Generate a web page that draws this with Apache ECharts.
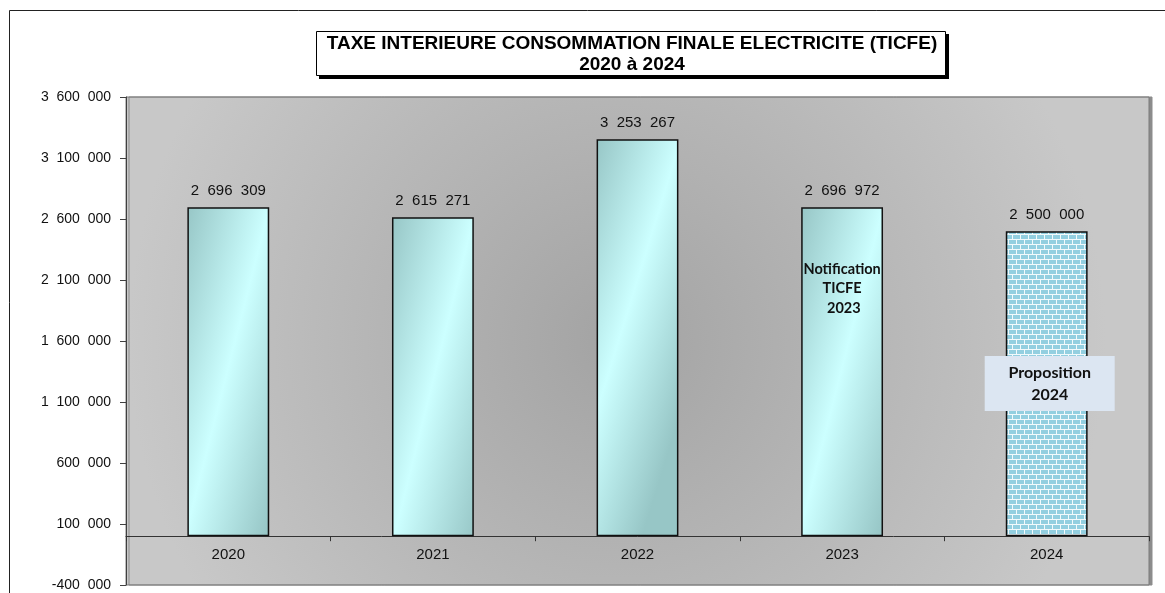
<!DOCTYPE html>
<html>
<head>
<meta charset="utf-8">
<script src="https://cdn.jsdelivr.net/npm/echarts@6/dist/echarts.min.js"></script>
<style>
  html, body { margin: 0; padding: 0; background: #ffffff; }
  #chart { width: 1165px; height: 593px; }
</style>
</head>
<body>
<div id="chart"></div>
<script>
// TICFE receipts per year
const years = ['2020', '2021', '2022', '2023', '2024'];
const amounts = [2696309, 2615271, 3253267, 2696972, 2500000];
const yTicks = [-400000, 100000, 600000, 1100000, 1600000, 2100000, 2600000, 3100000, 3600000];

const titleLines = ['TAXE INTERIEURE CONSOMMATION FINALE ELECTRICITE (TICFE)', '2020 à 2024'];
const noteYear = '2023';
const noteText = 'Notification\nTICFE\n 2023';
const noteLevel = 2030000;
const proposalYear = '2024';
const proposalText = 'Proposition\n2024';
const proposalLevel = 1252000;

// French grouping with a figure space between thousands
function fmt(v) {
  const s = String(Math.abs(v)).replace(/\B(?=(\d{3})+(?!\d))/g, '\u2007');
  return (v < 0 ? '-' : '') + s;
}

// brick texture for the projected year
function brickTile() {
  const c = document.createElement('canvas');
  c.width = 16; c.height = 10;
  const g = c.getContext('2d');
  g.fillStyle = '#f2fafc';
  g.fillRect(0, 0, 16, 10);
  g.fillStyle = '#93cfe0';
  g.fillRect(1, 0, 7, 4);
  g.fillRect(9, 0, 7, 4);
  g.fillRect(0, 5, 4, 4);
  g.fillRect(5, 5, 7, 4);
  g.fillRect(13, 5, 3, 4);
  return c;
}

const cyanFill = {
  type: 'linear', x: 0, y: 0, x2: 1.88, y2: 0.12,
  colorStops: [
    { offset: 0, color: '#97c6c6' },
    { offset: 0.5, color: '#ccffff' },
    { offset: 1, color: '#97c6c6' }
  ]
};

const barData = amounts.map((v, i) => ({
  value: v,
  itemStyle: years[i] === proposalYear
    ? { color: { image: brickTile(), repeat: 'repeat' } }
    : { color: cyanFill }
}));

const chart = echarts.init(document.getElementById('chart'), null, { renderer: 'canvas' });

const axisFont = '"Liberation Sans", Arial, sans-serif';
const titleFont = 'bold 19px "Liberation Sans", Arial, sans-serif';

chart.setOption({
  animation: false,
  backgroundColor: '#ffffff',
  grid: {
    left: 126, right: 16, top: 97, bottom: 8,
    outerBoundsMode: 'none',
    containLabel: false,
    show: true,
    backgroundColor: {
      type: 'radial', x: 0.48, y: 0.5, r: 1.0,
      colorStops: [
        { offset: 0, color: '#a3a3a3' },
        { offset: 1, color: '#c8c8c8' }
      ]
    },
    borderColor: '#7a7a7a',
    borderWidth: 1,
    shadowColor: '#8c8c8c',
    shadowOffsetX: 3,
    shadowOffsetY: 0,
    shadowBlur: 0
  },
  xAxis: {
    type: 'category',
    data: years,
    position: 'bottom',
    axisLine: { onZero: false, lineStyle: { color: '#333333', width: 1 } },
    axisTick: { show: true, length: 5, lineStyle: { color: '#333333' } },
    axisLabel: { margin: 11, fontSize: 15, color: '#111111', fontFamily: axisFont },
    splitLine: { show: false }
  },
  yAxis: {
    type: 'value',
    min: yTicks[0],
    max: yTicks[yTicks.length - 1],
    axisLine: { show: true, lineStyle: { color: '#404040', width: 1 } },
    axisTick: { show: true, length: 6, customValues: yTicks, lineStyle: { color: '#404040' } },
    axisLabel: {
      margin: 15, fontSize: 14, color: '#111111', fontFamily: axisFont,
      customValues: yTicks,
      formatter: v => fmt(v)
    },
    splitLine: { show: false }
  },
  series: [{
    type: 'bar',
    data: barData,
    barWidth: '40%',
    itemStyle: { borderColor: '#111111', borderWidth: 1.5 },
    label: {
      show: true,
      position: 'top',
      distance: 9,
      fontSize: 15,
      color: '#111111',
      fontFamily: axisFont,
      formatter: p => fmt(p.value)
    },
    markPoint: {
      silent: true,
      data: [
        {
          coord: [noteYear, noteLevel],
          symbol: 'rect',
          symbolSize: 1,
          itemStyle: { color: 'rgba(0,0,0,0)' },
          label: {
            show: true, position: 'inside', formatter: noteText,
            fontFamily: 'Lato, sans-serif', fontWeight: 'bold', fontSize: 14.5,
            lineHeight: 19.5, color: '#111111', align: 'center'
          }
        },
        {
          coord: [proposalYear, proposalLevel],
          symbol: 'rect',
          symbolSize: [130, 55],
          symbolOffset: [3, 0],
          itemStyle: { color: '#dce6f2' },
          label: {
            show: true, position: 'inside', formatter: proposalText,
            fontFamily: 'Lato, sans-serif', fontWeight: 'bold', fontSize: 16,
            lineHeight: 22, color: '#111111', align: 'center'
          }
        }
      ]
    }
  }],
  graphic: [
    // outer chart frame
    {
      type: 'rect', silent: true, z: 0,
      shape: { x: 9.5, y: 10.5, width: 1300, height: 800 },
      style: { fill: 'none', stroke: '#222222', lineWidth: 1 }
    },
    // title box with drop shadow
    {
      type: 'rect', silent: true, z: 10,
      shape: { x: 319, y: 34, width: 630, height: 45 },
      style: { fill: '#000000' }
    },
    {
      type: 'rect', silent: true, z: 11,
      shape: { x: 316.5, y: 31.5, width: 629, height: 44 },
      style: { fill: '#ffffff', stroke: '#000000', lineWidth: 1 }
    },
    {
      type: 'text', silent: true, z: 12,
      x: 632, y: 44,
      style: {
        text: titleLines[0], fill: '#000000', font: titleFont,
        align: 'center', verticalAlign: 'middle'
      }
    },
    {
      type: 'text', silent: true, z: 12,
      x: 632, y: 65,
      style: {
        text: titleLines[1], fill: '#000000', font: titleFont,
        align: 'center', verticalAlign: 'middle'
      }
    }
  ]
});

// The category axis sits on the zero line: shift it up from the grid's bottom edge
const yZero = chart.convertToPixel({ yAxisIndex: 0 }, 0);
const yMin = chart.convertToPixel({ yAxisIndex: 0 }, yTicks[0]);
chart.setOption({ xAxis: { offset: -(yMin - yZero) } });
</script>
</body>
</html>
